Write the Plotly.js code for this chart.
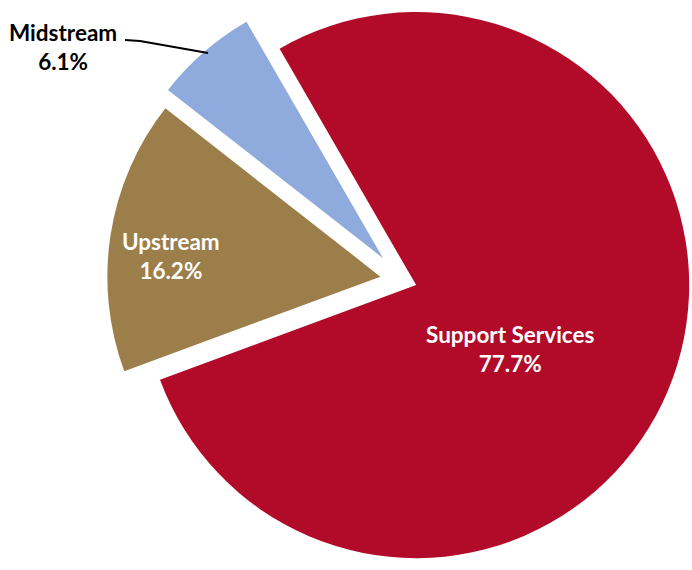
<!DOCTYPE html>
<html>
<head>
<meta charset="utf-8">
<script src="https://cdn.plot.ly/plotly-3.0.1.min.js"></script>
<style>
  html, body { margin: 0; padding: 0; width: 692px; height: 570px; overflow: hidden; background: #ffffff; }
  #chart { position: absolute; left: 0px; top: -40px; width: 720px; height: 640px; }
</style>
</head>
<body>
<div id="chart"></div>
<script>
// ---- data ----
const segments = ['Support Services', 'Upstream', 'Midstream'];
const shares = [77.7, 16.2, 6.1];
const colors = ['#B20B2A', '#9C7E4A', '#8FAADC'];
const pulls = [0.055, 0.08, 0.106];

// ---- layout helpers (page pixel -> paper coords of the 720x640 div shifted 40px up) ----
const DIV_W = 720, DIV_H = 640, OFF_Y = 40;
const px = x => x / DIV_W;
const py = y => 1 - (y + OFF_Y) / DIV_H;

const fontFam = 'Lato, Carlito, "Open Sans", sans-serif';
const labelFont = (c) => ({ family: fontFam, size: 22.5, color: c, weight: 700 });
const fmt = (i) => segments[i] + '<br>' + shares[i].toFixed(1) + '%';

const data = [{
  type: 'pie',
  labels: segments,
  values: shares,
  sort: false,
  direction: 'clockwise',
  rotation: -30,
  pull: pulls,
  marker: { colors: colors, line: { width: 0 } },
  textinfo: 'none',
  hoverinfo: 'none',
  showlegend: false,
  domain: { x: [100 / DIV_W, 704 / DIV_W], y: [1 - 622 / DIV_H, 1 - 18 / DIV_H] }
}];

const layout = {
  width: DIV_W,
  height: DIV_H,
  margin: { l: 0, r: 0, t: 0, b: 0 },
  paper_bgcolor: '#ffffff',
  plot_bgcolor: '#ffffff',
  showlegend: false,
  annotations: [
    { text: fmt(0), x: px(510), y: py(349), xref: 'paper', yref: 'paper', showarrow: false,
      xanchor: 'center', yanchor: 'middle', align: 'center', font: labelFont('#ffffff') },
    { text: fmt(1), x: px(171), y: py(256), xref: 'paper', yref: 'paper', showarrow: false,
      xanchor: 'center', yanchor: 'middle', align: 'center', font: labelFont('#ffffff') },
    { text: fmt(2), x: px(63), y: py(47), xref: 'paper', yref: 'paper', showarrow: false,
      xanchor: 'center', yanchor: 'middle', align: 'center', font: labelFont('#000000') }
  ],
  shapes: [
    { type: 'path', xref: 'paper', yref: 'paper',
      path: 'M ' + px(125) + ' ' + py(40) + ' L ' + px(140) + ' ' + py(41) + ' L ' + px(208) + ' ' + py(53),
      line: { color: '#000000', width: 2.2 } }
  ]
};

Plotly.newPlot('chart', data, layout, { displayModeBar: false, staticPlot: true });
</script>
</body>
</html>
